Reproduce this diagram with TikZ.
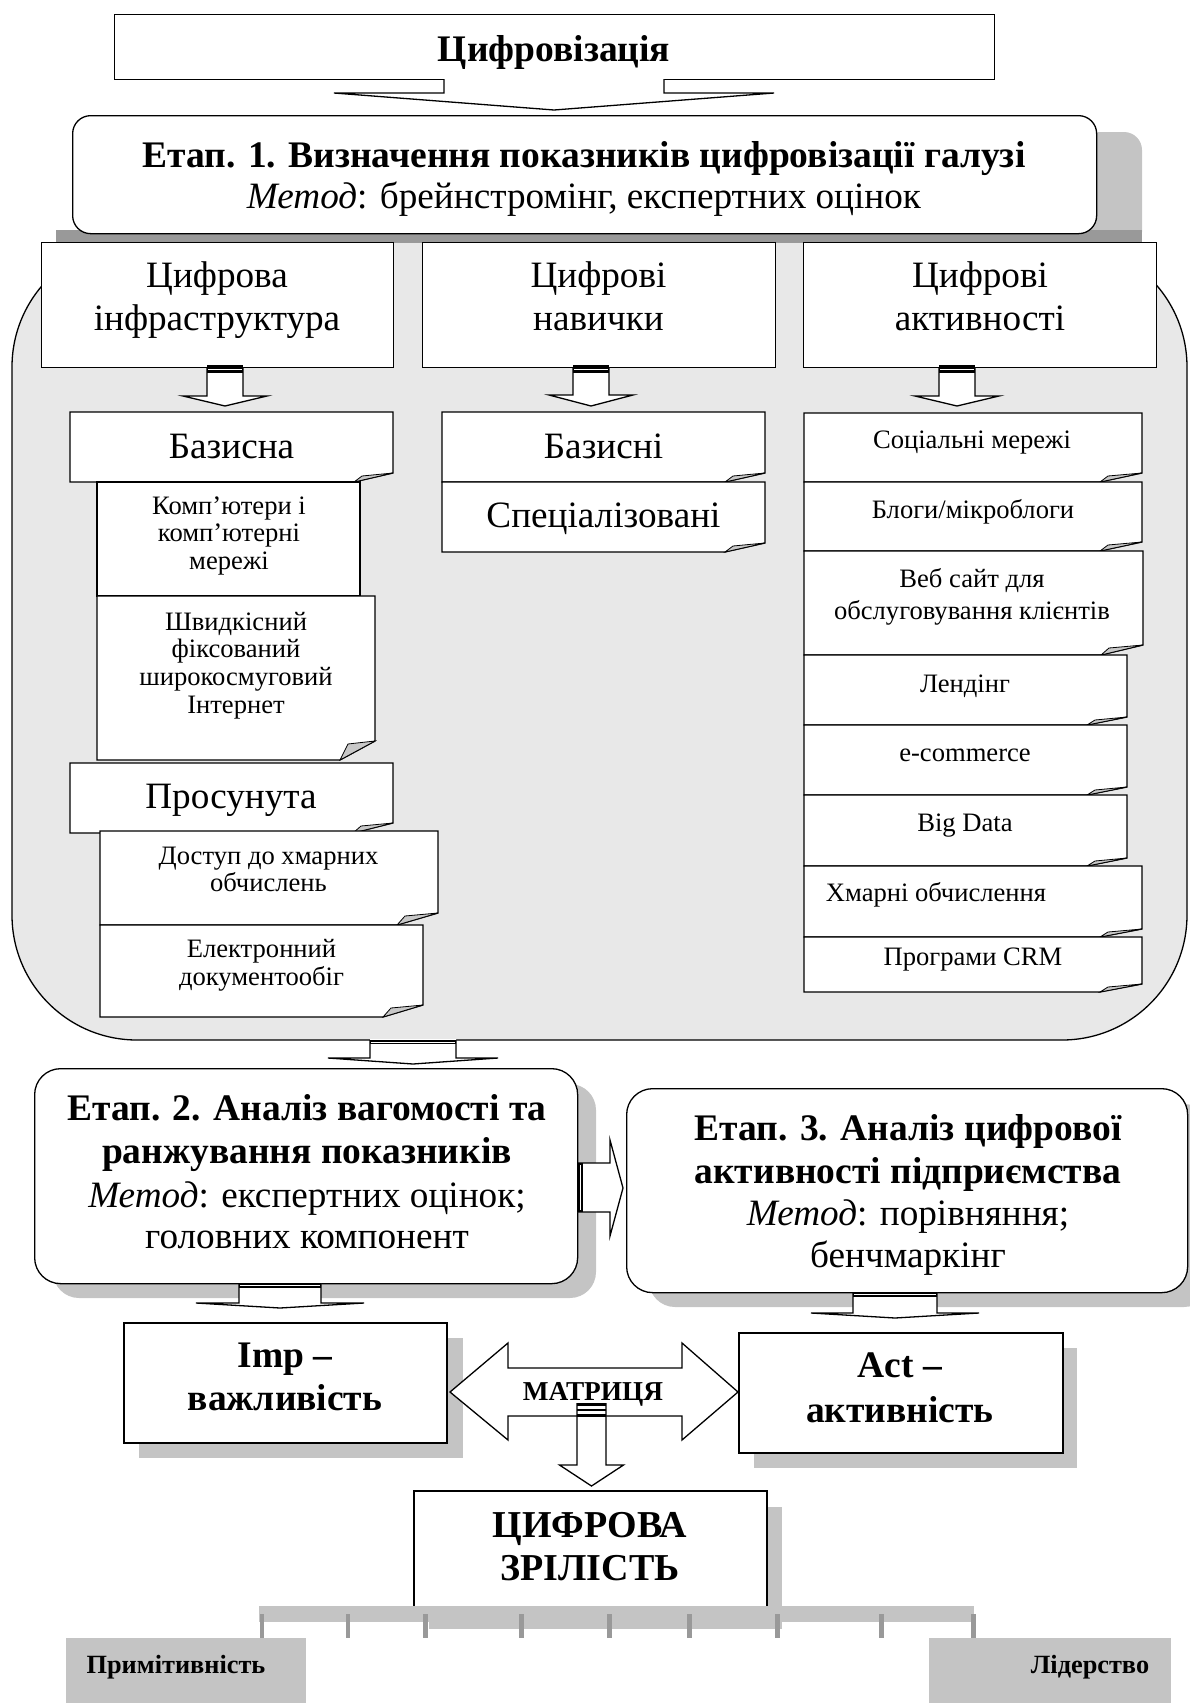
\documentclass[tikz,border=0pt]{standalone}
\usepackage{fontspec}
\setmainfont{Liberation Serif}
\usetikzlibrary{calc}
\definecolor{bggray}{HTML}{E8E8E8}
\definecolor{shgray}{HTML}{C4C4C4}
\definecolor{dkgray}{HTML}{999999}
\definecolor{flapgray}{HTML}{C8C8C8}
\newcommand\fS{\fontsize{26.6}{28}\selectfont}
\newcommand\fM{\fontsize{37.2}{43}\selectfont}
\newcommand\fB{\fontsize{37.5}{43}\selectfont\bfseries}
\newcommand\fZ{\fontsize{38}{43}\selectfont\bfseries}
\newcommand\fMat{\fontsize{27.3}{28}\selectfont\bfseries}
\newcommand\fP{\fontsize{26.3}{28}\selectfont\bfseries}
% doc box: x1 y1 x2 y2 foldw foldh
\newcommand\docbox[6]{%
  \draw[docline, fill=white] (#1,#2) -- (#3,#2) -- (#3,{#4-#6}) -- ({#3-#5},#4) -- (#1,#4) -- cycle;
  \draw[line width=0.8, fill=flapgray] ({#3-#5},#4) -- ({#3-#5+8},{#4-#6+3}) -- (#3,{#4-#6}) -- cycle;}
% block arrow down: cx ytop shaft wing ywing ytip
\newcommand\blkdown[6]{%
  \path[fill=white] ({#1-#3},{#2-1}) -- ({#1-#3},#5) -- ({#1-#4},#5) -- (#1,#6) -- ({#1+#4},#5) -- ({#1+#3},#5) -- ({#1+#3},{#2-1}) -- cycle;
  \draw[arrline] ({#1-#3},#2) -- ({#1-#3},#5) -- ({#1-#4},#5) -- (#1,#6) -- ({#1+#4},#5) -- ({#1+#3},#5) -- ({#1+#3},#2);}
% thick bar: cx ytop shaft height
\newcommand\blkbar[4]{%
  \fill[black] ({#1-#3},#2) rectangle ({#1+#3},{#2+#4});
  \draw[white, line width=0.8] ({#1-#3+1},{#2+#4/2}) -- ({#1+#3-1},{#2+#4/2});}
\begin{document}
\begin{tikzpicture}[x=1pt,y=-1pt,
  docline/.style={line width=1.3},
  arrline/.style={line width=1.3, line join=miter},
  lbl/.style={inner sep=0pt, anchor=base, align=center},
  plainbox/.style={draw, line width=1.3, fill=white, inner sep=0pt, anchor=north west},
  thickbox/.style={draw, line width=2, fill=white, inner sep=0pt, anchor=north west},
  roundbox/.style={draw, line width=1.3, fill=white, inner sep=0pt, anchor=north west, rounded corners=26pt},
  shade/.style={fill=shgray}]
\useasboundingbox (0,0) rectangle (1190,1703);

% ---------- top box ----------
\node[plainbox, minimum width=880pt, minimum height=65pt] (dig) at (114,14) {};
\node[lbl, font=\fB] (digT) at (554,61) {Цифровізація};

% ---------- Etap 1 shadow and big region ----------
\fill[shgray, rounded corners=18] (118,132) rectangle (1142,250);
\draw[fill=bggray, line width=1.3, rounded corners=125] (12,242) rectangle (1187,1040);
\fill[dkgray] (56,230) rectangle (1142,243);
\node[draw, line width=1.3, fill=white, inner sep=0pt, anchor=north west, rounded corners=18pt,
      minimum width=1024pt, minimum height=118pt] (st1) at (72,115) {};
\node[lbl, font=\fB] (st1a) at (584,167) {Етап. 1. Визначення показників цифровізації галузі};
\node[lbl, font=\fM] (st1b) at (584,208) {\textit{Метод}: брейнстромінг, експертних оцінок};
\blkdown{554}{79}{110}{220}{93}{110}

% ---------- categories ----------
\node[plainbox, minimum width=352pt, minimum height=125pt] (catA) at (41,242) {};
\node[plainbox, minimum width=353pt, minimum height=125pt] (catB) at (422,242) {};
\node[plainbox, minimum width=353pt, minimum height=125pt] (catC) at (803,242) {};
\node[lbl, font=\fM] (catA1) at (217,287) {Цифрова};
\node[lbl, font=\fM] (catA2) at (217,330) {інфраструктура};
\node[lbl, font=\fM] (catB1) at (598.5,287) {Цифрові};
\node[lbl, font=\fM] (catB2) at (598.5,330) {навички};
\node[lbl, font=\fM] (catC1) at (980,287) {Цифрові};
\node[lbl, font=\fM] (catC2) at (980,330) {активності};
\blkdown{225}{367}{18}{42}{396}{406}\blkbar{225}{365}{18}{8}
\blkdown{591}{367}{18}{42}{395}{406}\blkbar{591}{365}{18}{8}
\blkdown{957}{367}{18}{42}{396}{406}\blkbar{957}{365}{18}{8}

% ---------- left column ----------
\docbox{70}{412}{393}{482}{39}{9}
\node[lbl, font=\fM] (bazA) at (231.5,458) {Базисна};
\draw[docline, fill=white] (97,482) rectangle (360,596);
\node[lbl, font=\fS] (comp1) at (229,514) {Комп’ютери і};
\node[lbl, font=\fS] (comp2) at (229,541.5) {комп’ютерні};
\node[lbl, font=\fS] (comp3) at (229,569) {мережі};
\docbox{97}{596}{375}{760}{35}{19}
\node[lbl, font=\fS] (shv1) at (236,630) {Швидкісний};
\node[lbl, font=\fS] (shv2) at (236,657.5) {фіксований};
\node[lbl, font=\fS] (shv3) at (236,685) {широкосмуговий};
\node[lbl, font=\fS] (shv4) at (236,713) {Інтернет};
\docbox{70}{763}{393}{833}{40}{10}
\node[lbl, font=\fM] (pros) at (231,808.5) {Просунута};
\docbox{100}{831}{438}{925}{41}{12}
\node[lbl, font=\fS] (dost1) at (268.5,864) {Доступ до хмарних};
\node[lbl, font=\fS] (dost2) at (268.5,891) {обчислень};
\docbox{100}{925}{423}{1017}{40}{12}
\node[lbl, font=\fS] (elec1) at (261.5,957) {Електронний};
\node[lbl, font=\fS] (elec2) at (261.5,985) {документообіг};

% ---------- middle column ----------
\docbox{442}{412}{765}{482}{40}{9}
\node[lbl, font=\fM] (bazB) at (603.5,458) {Базисні};
\docbox{442}{482}{765}{552}{40}{9}
\node[lbl, font=\fM] (spec) at (603.5,527) {Спеціалізовані};

% ---------- right column ----------
\docbox{804}{413}{1142}{482}{42}{9}
\node[lbl, font=\fS] (soc) at (972,448.6) {Соціальні мережі};
\docbox{804}{482}{1142}{551}{42}{9}
\node[lbl, font=\fS] (blog) at (973,518.6) {Блоги/мікроблоги};
\docbox{804}{551}{1143}{655}{42}{10}
\node[lbl, font=\fS] (web1) at (972,587.8) {Веб сайт для};
\node[lbl, font=\fS] (web2) at (972,619.5) {обслуговування клієнтів};
\docbox{804}{655}{1127}{725}{40}{8}
\node[lbl, font=\fS] (lend) at (965,692.6) {Лендінг};
\docbox{804}{725}{1127}{795}{40}{8}
\node[lbl, font=\fS] (ecom) at (965,761.8) {e-commerce};
\docbox{804}{795}{1127}{866}{40}{8}
\node[lbl, font=\fS] (bigd) at (965,831.8) {Big Data};
\docbox{804}{866}{1142}{937}{42}{8}
\node[lbl, font=\fS] (cloud) at (936,901.4) {Хмарні обчислення};
\docbox{804}{937}{1142}{992}{42}{8}
\node[lbl, font=\fS] (crm) at (973,965.4) {Програми CRM};

% ---------- arrow to stage 2 ----------
\blkdown{413}{1040}{43}{85}{1058}{1064}\blkbar{413}{1040}{43}{4}

% ---------- stage 2 and 3 ----------
\fill[shade, rounded corners=26] (53,1084) rectangle (596,1298);
\fill[shade, rounded corners=26] (649,1104) rectangle (1210,1307);
\node[roundbox, minimum width=543pt, minimum height=215pt] (st2) at (34,1068) {};
\node[roundbox, minimum width=561pt, minimum height=204pt] (st3) at (626,1088) {};
\node[lbl, font=\fB] (st2a) at (307,1120) {Етап. 2. Аналіз вагомості та};
\node[lbl, font=\fB] (st2b) at (307,1163) {ранжування показників};
\node[lbl, font=\fM] (st2c) at (307,1207) {\textit{Метод}: експертних оцінок;};
\node[lbl, font=\fM] (st2d) at (307,1248) {головних компонент};
\node[lbl, font=\fB] (st3a) at (908,1140) {Етап. 3. Аналіз цифрової};
\node[lbl, font=\fB] (st3b) at (908,1183) {активності підприємства};
\node[lbl, font=\fM] (st3c) at (908,1225) {\textit{Метод}: порівняння;};
\node[lbl, font=\fM] (st3d) at (908,1267) {бенчмаркінг};
% right arrow
\path[fill=white] (577,1163) -- (610,1163) -- (610,1140) -- (623,1188) -- (610,1236) -- (610,1212) -- (577,1212) -- cycle;
\draw[arrline] (577,1163) -- (610,1163) -- (610,1140) -- (623,1188) -- (610,1236) -- (610,1212) -- (577,1212);
\fill[black] (577,1163) rectangle (583,1212);
\draw[white, line width=0.8] (580,1165) -- (580,1210);

\blkdown{280}{1283}{41}{84}{1303}{1308}\blkbar{280}{1283}{41}{5}
\blkdown{895}{1292}{42}{84}{1313}{1318}\blkbar{895}{1292}{42}{5}

% ---------- Imp / Act ----------
\fill[shade] (139,1338) rectangle (463,1458);
\fill[shade] (754,1348) rectangle (1077,1468);
\node[thickbox, minimum width=323pt, minimum height=120pt] (imp) at (123,1322) {};
\node[thickbox, minimum width=324pt, minimum height=120pt] (act) at (738,1332) {};
\node[lbl, font=\fB] (imp1) at (285,1367) {Imp –};
\node[lbl, font=\fB] (imp2) at (285,1410) {важливість};
\node[lbl, font=\fB] (act1) at (900,1377) {Act –};
\node[lbl, font=\fB] (act2) at (900,1422) {активність};

% double arrow
\draw[arrline, fill=white] (450,1392) -- (508,1343) -- (508,1368) -- (682,1368) -- (682,1343) -- (738,1392)
  -- (682,1440) -- (682,1416) -- (508,1416) -- (508,1440) -- cycle;
\node[lbl, font=\fMat] (mat) at (593,1400) {МАТРИЦЯ};
\blkdown{591.5}{1403}{14.5}{32}{1465}{1486}
\fill[black] (577,1403) rectangle (606,1406);
\fill[black] (577,1409) rectangle (606,1411);
\fill[black] (577,1414) rectangle (606,1417);

% ---------- digital maturity ----------
\fill[shade] (429,1507) rectangle (782,1629);
\node[thickbox, minimum width=353pt, minimum height=117pt] (zr) at (413,1490) {};
\node[lbl, font=\fZ] (zr1) at (590,1537) {ЦИФРОВА};
\node[lbl, font=\fZ] (zr2) at (590,1580) {ЗРІЛІСТЬ};
\fill[shgray] (259,1606) rectangle (974,1622);
\foreach \tx in {262,348,425.5,521.5,609.7,689.6,777.4,881.6,973.7}
  \draw[dkgray, line width=4.5] (\tx,1614) -- (\tx,1638);

\node[fill=shgray, inner sep=0pt, anchor=north west, minimum width=240pt, minimum height=65pt] (prim) at (66,1638) {};
\node[fill=shgray, inner sep=0pt, anchor=north west, minimum width=242pt, minimum height=65pt] (lid) at (929,1638) {};
\node[lbl, font=\fP] (primT) at (176,1673) {Примітивність};
\node[lbl, font=\fP] (lidT) at (1090,1673) {Лідерство};
\end{tikzpicture}
\end{document}
